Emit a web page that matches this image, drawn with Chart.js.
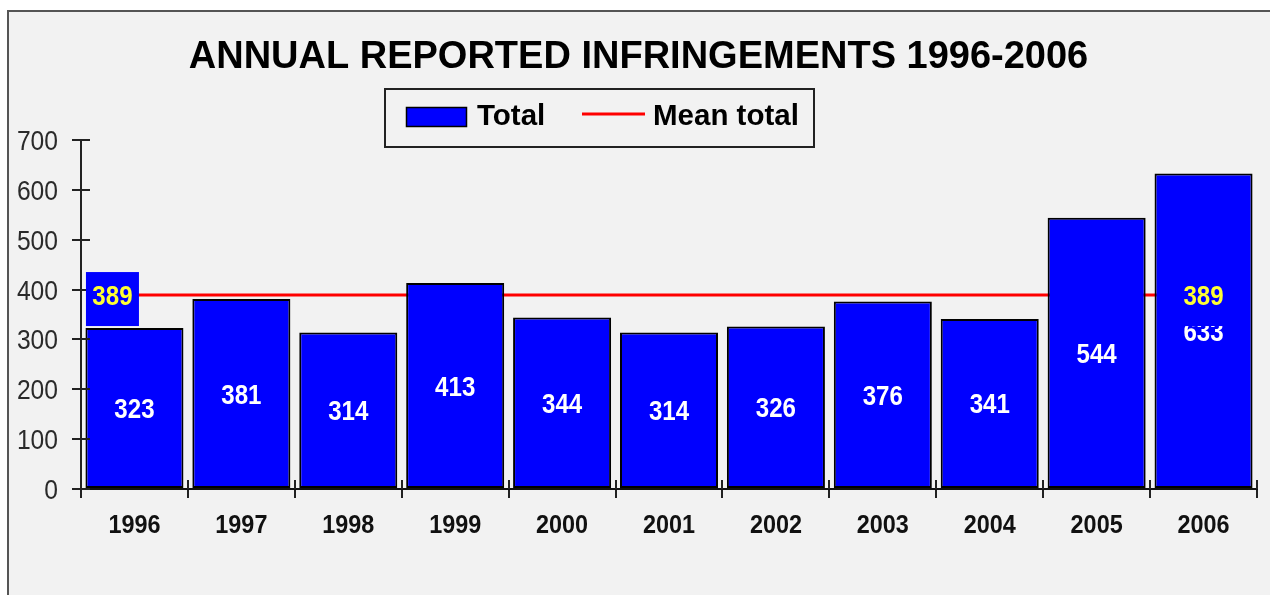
<!DOCTYPE html>
<html><head><meta charset="utf-8">
<script src="https://cdn.jsdelivr.net/npm/chart.js@4.4.0/dist/chart.umd.min.js"></script>
<style>
html,body{margin:0;padding:0;background:#fff;width:1270px;height:595px;overflow:hidden;}
#panel{position:absolute;left:7px;top:10px;width:1300px;height:700px;background:#f2f2f2;border:2px solid #555;box-sizing:border-box;}
#wrap{position:absolute;left:0;top:0;width:1270px;height:595px;}
</style></head><body>
<div id="panel"></div>
<div id="wrap"><canvas id="c" width="1270" height="595"></canvas></div>
<script>
const categories = ['1996','1997','1998','1999','2000','2001','2002','2003','2004','2005','2006'];
const totals = [323, 381, 314, 413, 344, 314, 326, 376, 341, 544, 633];
const meanTotal = [389, 389, 389, 389, 389, 389, 389, 389, 389, 389, 389];
const yTicks = [0, 100, 200, 300, 400, 500, 600, 700];
const titleText = 'ANNUAL REPORTED INFRINGEMENTS 1996-2006';
const seriesNames = ['Total', 'Mean total'];

const SANS = '"Liberation Sans", Arial, sans-serif';

function drawText(ctx, text, x, y, font, color, sx, align) {
  ctx.save();
  ctx.font = font; ctx.fillStyle = color;
  ctx.textBaseline = 'alphabetic'; ctx.textAlign = align;
  ctx.translate(x, y); ctx.scale(sx, 1);
  ctx.fillText(text, 0, 0);
  ctx.restore();
}

const decor = {
  id: 'decor',
  afterDatasetsDraw(chart) {
    const ctx = chart.ctx, ca = chart.chartArea;
    const ya = chart.scales.y, xa = chart.scales.x;
    ctx.save();
    // inner tick halves
    ctx.strokeStyle = '#222'; ctx.lineWidth = 2;
    ya.ticks.forEach((t, i) => {
      const y = Math.round(ya.getPixelForTick(i));
      ctx.beginPath(); ctx.moveTo(ca.left, y); ctx.lineTo(ca.left + 9, y); ctx.stroke();
    });
    const n = categories.length, cw = (ca.right - ca.left) / n;
    for (let i = 0; i <= n; i++) {
      const x = Math.round(ca.left + i * cw);
      ctx.beginPath(); ctx.moveTo(x, ca.bottom); ctx.lineTo(x, ca.bottom - 9); ctx.stroke();
    }
    ctx.restore();
    // y tick labels
    yTicks.forEach(v => {
      drawText(ctx, String(v), 58, ya.getPixelForValue(v) + 10, '28px ' + SANS, '#2a2a2a', 0.88, 'right');
    });
    // x tick labels
    categories.forEach((c, i) => {
      drawText(ctx, c, xa.getPixelForValue(i), 533, 'bold 26px ' + SANS, '#111', 0.9, 'center');
    });
    // bar value labels
    const bm = chart.getDatasetMeta(0);
    bm.data.forEach((bar, i) => {
      const yc = (bar.y + bar.base) / 2;
      drawText(ctx, String(totals[i]), bar.x, yc + 10, 'bold 28px ' + SANS, '#ffffff', 0.86, 'center');
    });
    // mean labels
    const lm = chart.getDatasetMeta(1);
    [[0, -22], [n - 1, 0]].forEach(([i, dx]) => {
      const p = lm.data[i];
      const cx = p.x + dx;
      ctx.fillStyle = '#0000ff';
      ctx.fillRect(cx - 26.5, p.y - 23, 53, 54);
      drawText(ctx, String(meanTotal[i]), cx, p.y + 10, 'bold 28px ' + SANS, '#ffff33', 0.86, 'center');
    });
  },
  afterDraw(chart) {
    const ctx = chart.ctx;
    drawText(ctx, titleText, 638.5, 68, 'bold 38px ' + SANS, '#000', 1, 'center');
    ctx.save();
    ctx.strokeStyle = '#222'; ctx.lineWidth = 2;
    ctx.strokeRect(385, 89, 429, 58);
    ctx.fillStyle = '#0000ff';
    ctx.fillRect(406, 107, 61, 20);
    ctx.lineWidth = 1.5; ctx.strokeStyle = '#000';
    ctx.strokeRect(406.5, 107.5, 60, 19);
    ctx.strokeStyle = '#ff0000'; ctx.lineWidth = 3;
    ctx.beginPath(); ctx.moveTo(582, 114); ctx.lineTo(645, 114); ctx.stroke();
    ctx.restore();
    drawText(ctx, seriesNames[0], 477, 125, 'bold 29.5px ' + SANS, '#000', 1, 'left');
    drawText(ctx, seriesNames[1], 653, 125, 'bold 29.5px ' + SANS, '#000', 1, 'left');
  }
};

new Chart(document.getElementById('c'), {
  data: {
    labels: categories,
    datasets: [
      { type: 'bar', label: seriesNames[0], data: totals, backgroundColor: '#0000ff',
        borderColor: '#000', borderWidth: 2, borderSkipped: false,
        barPercentage: 0.917, categoryPercentage: 1.0 },
      { type: 'line', label: seriesNames[1], data: meanTotal, borderColor: '#ff0000',
        borderWidth: 3, pointRadius: 0, fill: false, tension: 0 }
    ]
  },
  options: {
    responsive: false, animation: false, devicePixelRatio: 1,
    layout: { padding: { top: 140, right: 13, left: 0, bottom: 0 } },
    plugins: { legend: { display: false }, title: { display: false }, tooltip: { enabled: false } },
    scales: {
      x: {
        offset: true,
        grid: { display: true, drawOnChartArea: false, drawTicks: true, tickLength: 9, color: '#222', lineWidth: 2, offset: true },
        border: { display: true, color: '#111', width: 2 },
        ticks: { display: false },
        afterFit: s => { s.height = 106; }
      },
      y: {
        min: yTicks[0], max: yTicks[yTicks.length - 1],
        grid: { display: true, drawOnChartArea: false, drawTicks: true, tickLength: 9, color: '#222', lineWidth: 2 },
        border: { display: true, color: '#222', width: 2 },
        ticks: { stepSize: yTicks[1] - yTicks[0], display: false },
        afterFit: s => { s.width = 81; }
      }
    }
  },
  plugins: [decor]
});
</script>
</body></html>
